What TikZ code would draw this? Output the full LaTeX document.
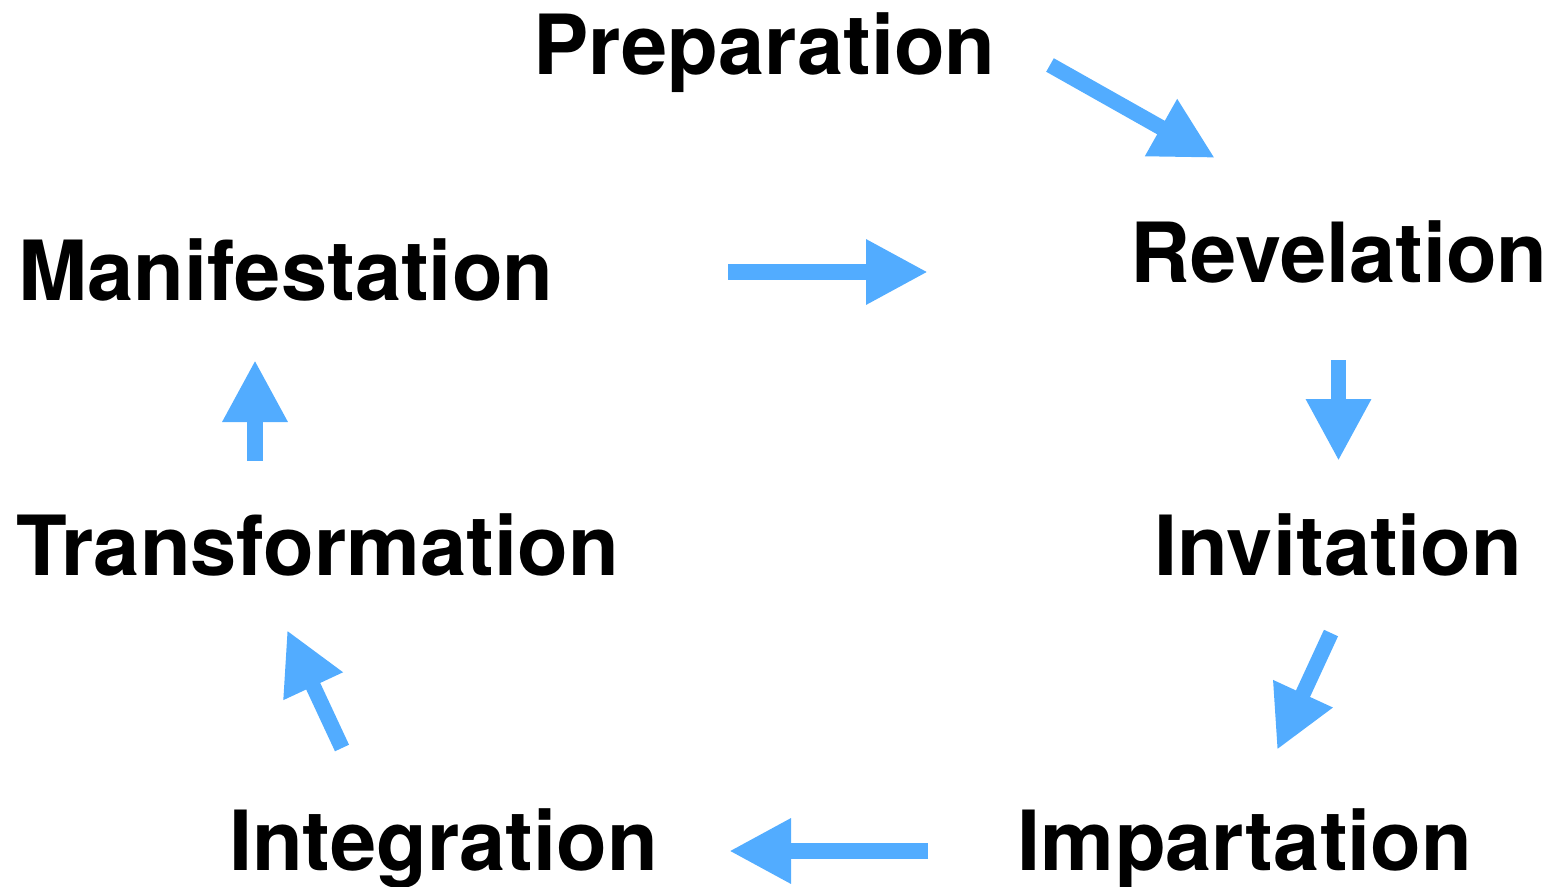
\documentclass[tikz,border=0pt]{standalone}
\usepackage{fontspec}
\setmainfont{TeX Gyre Heros}
\usetikzlibrary{arrows.meta}
\definecolor{arrowblue}{HTML}{52ACFF}
\begin{document}
\begin{tikzpicture}[x=1pt,y=-1pt,
  lbl/.style={anchor=base,inner sep=0pt,font=\fontsize{83}{90}\selectfont\bfseries},
  blockarrow/.style={draw=arrowblue,line width=15.5pt,line cap=butt,
    -{Triangle[length=62pt,width=61pt,fill=arrowblue]}}]
\useasboundingbox (0,0) rectangle (1555,886);
\node[lbl] (prep) at (764.5,74) {Preparation};
\node[lbl] (rev) at (1339,282) {Revelation};
\node[lbl] (man) at (286,300) {Manifestation};
\node[lbl] (inv) at (1338.5,575) {Invitation};
\node[lbl] (trans) at (317.5,575) {Transformation};
\node[lbl] (integ) at (443.5,870) {Integration};
\node[lbl] (imp) at (1245,870) {Impartation};
% arrow endpoints
\coordinate (a1s) at (1050,65);
\coordinate (a1e) at (1215,158);
\coordinate (a2s) at (728,272);
\coordinate (a2e) at (928,272);
\coordinate (a3s) at (1338.5,360);
\coordinate (a3e) at (1338.5,461);
\coordinate (a4s) at (1331,633);
\coordinate (a4e) at (1277,750);
\coordinate (a5s) at (928,851);
\coordinate (a5e) at (729,851);
\coordinate (a6s) at (342,748);
\coordinate (a6e) at (287,630);
\coordinate (a7s) at (255,461);
\coordinate (a7e) at (255,360);
\draw[blockarrow] (a1s) -- (a1e);
\draw[blockarrow] (a2s) -- (a2e);
\draw[blockarrow] (a3s) -- (a3e);
\draw[blockarrow] (a4s) -- (a4e);
\draw[blockarrow] (a5s) -- (a5e);
\draw[blockarrow] (a6s) -- (a6e);
\draw[blockarrow] (a7s) -- (a7e);
\end{tikzpicture}
\end{document}
